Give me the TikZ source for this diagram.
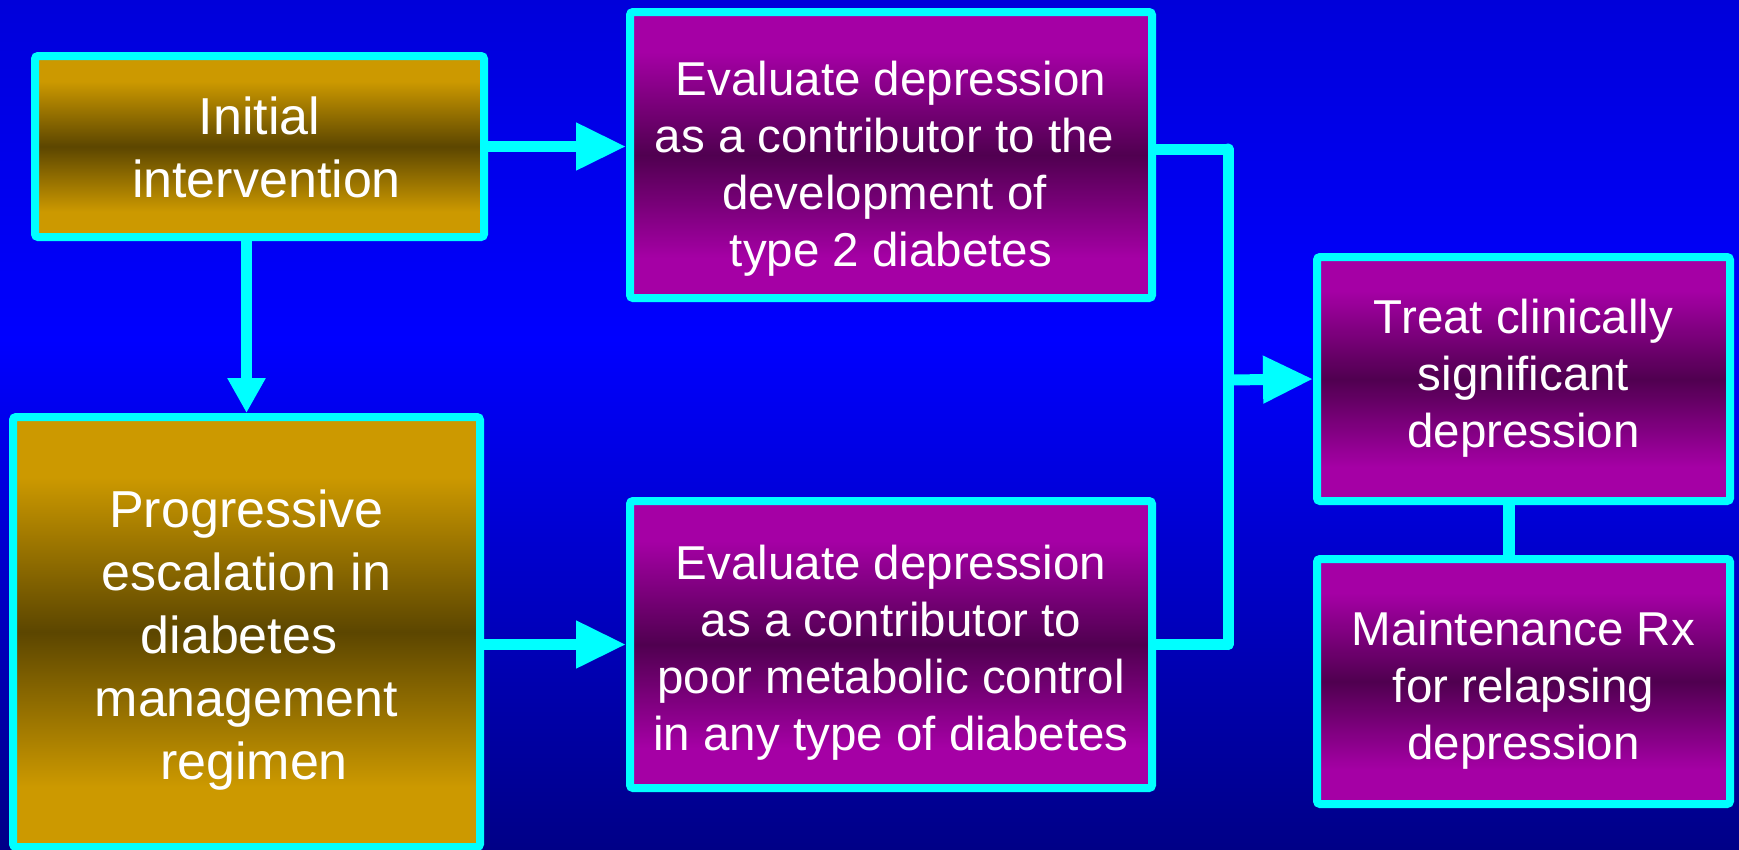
\documentclass[tikz,border=0pt]{standalone}
\usepackage{fontspec}
\setmainfont{Liberation Sans}
\usetikzlibrary{arrows.meta}
\definecolor{bgtop}{RGB}{0,0,218}
\definecolor{bgmid}{RGB}{0,0,255}
\definecolor{bgbot}{RGB}{0,0,135}
\definecolor{gold}{RGB}{204,153,0}
\definecolor{golddark}{RGB}{92,70,0}
\definecolor{purp}{RGB}{165,0,165}
\definecolor{purpdark}{RGB}{80,0,80}
\definecolor{lineclr}{RGB}{0,255,255}
\pgfdeclareverticalshading{bgshade}{100bp}{color(0bp)=(bgbot); color(25bp)=(bgbot); color(55bp)=(bgmid); color(75bp)=(bgtop); color(100bp)=(bgtop)}
\pgfdeclareverticalshading{goldshade}{100bp}{color(0bp)=(gold); color(32bp)=(gold); color(50bp)=(golddark); color(68bp)=(gold); color(100bp)=(gold)}
\pgfdeclareverticalshading{purpshade}{100bp}{color(0bp)=(purp); color(32bp)=(purp); color(50bp)=(purpdark); color(68bp)=(purp); color(100bp)=(purp)}
\newcommand\boxlines[2]{\raisebox{-#1}[\height][\depth]{\begin{tabular}{@{}c@{}}#2\end{tabular}}}
\tikzset{
  boxbase/.style={draw=lineclr, line width=8pt, rounded corners=3pt, shade, text=white, inner sep=0pt},
  gbox/.style={boxbase, shading=goldshade, font=\fontsize{52}{63}\selectfont},
  pbox/.style={boxbase, shading=purpshade, font=\fontsize{47.5}{57}\selectfont},
  conn/.style={draw=lineclr, line width=11pt},
  arr/.style={conn, -{Triangle[length=50pt,width=45pt]}},
  darr/.style={conn, -{Triangle[length=35pt,width=36pt]}},
}
\begin{document}
\begin{tikzpicture}[x=1pt,y=-1pt]
\useasboundingbox (0,0) rectangle (1739,849);
\shade[shading=bgshade] (0,0) rectangle (1739,849);

\node[gbox, minimum width=449pt, minimum height=181pt] (A) at (259.5,146.5)
  {\boxlines{7pt}{Initial\\\kern14pt intervention}};
\node[gbox, minimum width=467pt, minimum height=430pt] (B) at (246.5,632)
  {\boxlines{9pt}{Progressive\\escalation in\\diabetes\kern15pt\\management\\\kern15pt regimen}};
\node[pbox, minimum width=522pt, minimum height=286pt] (C) at (891,155)
  {\boxlines{15pt}{Evaluate depression\\as a contributor to the\kern13pt\\development of\kern13pt\\type 2 diabetes}};
\node[pbox, minimum width=522pt, minimum height=287pt] (D) at (891,644.5)
  {\boxlines{9pt}{Evaluate depression\\as a contributor to\\poor metabolic control\\in any type of diabetes}};
\node[pbox, minimum width=413pt, minimum height=244pt] (E) at (1523.5,379)
  {\boxlines{0pt}{Treat clinically\\significant\\depression}};
\node[pbox, minimum width=413pt, minimum height=245pt] (F) at (1523.5,681.5)
  {\boxlines{10pt}{Maintenance Rx\\for relapsing\\depression}};
\coordinate (J) at (1228,380);

\draw[arr] (A.east) -- (A.east -| C.west);
\draw[darr] (A.south -| B.north) -- (B.north);
\draw[arr] (B.east |- D.west) -- (D.west);
\draw[conn, line cap=round] ([yshift=6pt]C.east) -- ([yshift=6pt]C.east -| J);
\draw[conn, line cap=round] (D.east) -- (D.east -| J);
\draw[conn, line cap=round] ([yshift=6pt]C.east -| J) -- (D.east -| J);
\draw[arr] (J) -- (E.west);
\draw[conn, line width=12pt] ([xshift=-14.5pt]E.south) -- ([xshift=-14.5pt]F.north);
\end{tikzpicture}
\end{document}
